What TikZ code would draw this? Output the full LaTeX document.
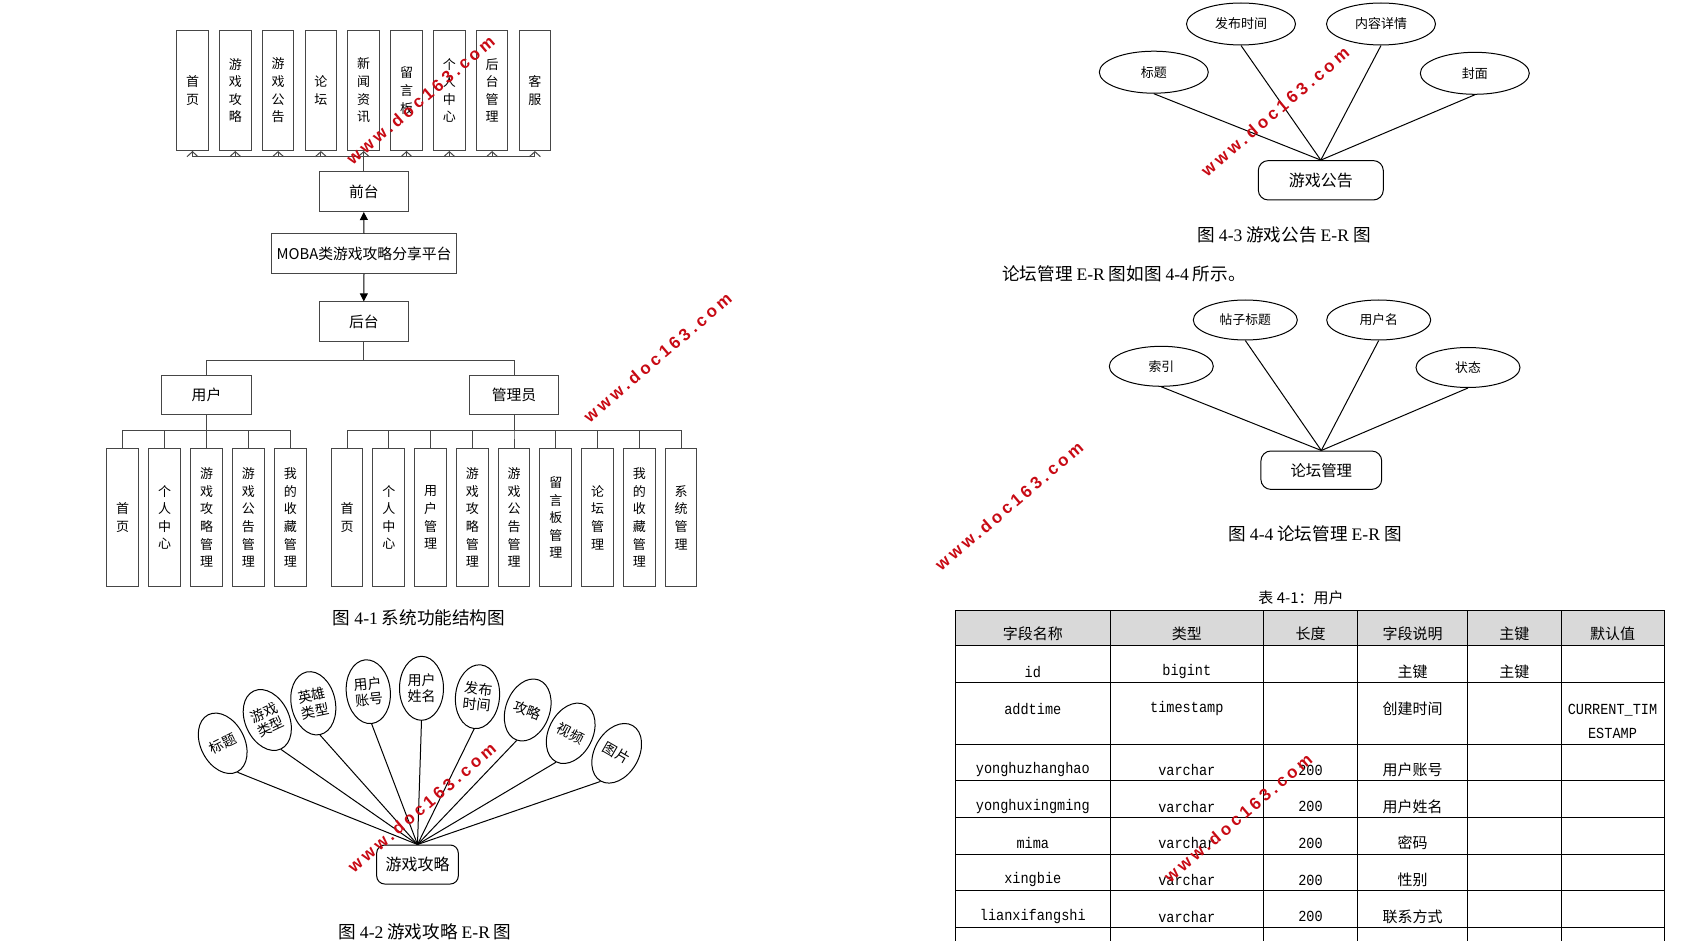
\documentclass[tikz,border=0pt]{standalone}
\usepackage{fontspec}
\setmainfont{Noto Sans CJK SC}
\newfontfamily\latinserif{Liberation Serif}
\newfontfamily\tablemono{Liberation Mono}[FakeStretch=0.88]
\newfontfamily\markfont{Liberation Sans}[LetterSpace=21]
\usetikzlibrary{arrows.meta,shapes.geometric}

\tikzset{
  funcbox/.style={draw=linegray,inner sep=0pt,minimum width=15.8pt,
    align=center,font=\fontsize{6.5}{8.8}\selectfont},
  rolebox/.style={draw=linegray,inner sep=0pt,minimum width=44.6pt,
    minimum height=19.8pt,font=\fontsize{7.4}{9}\selectfont},
  attr/.style={draw,ellipse,inner sep=0pt,align=center},
  entity/.style={draw,rounded corners=5pt,inner sep=0pt},
  figcap/.style={font=\fontsize{8.8}{10}\selectfont},
  cellcn/.style={font=\fontsize{7.5}{9}\selectfont},
  celllat/.style={font=\tablemono\fontsize{7.7}{12}\selectfont,align=center},
  watermark/.style={text=markred,rotate=40.5,
    font=\markfont\bfseries\fontsize{8.5}{9}\selectfont}
}

\begin{document}
\begin{tikzpicture}[x=0.5pt,y=-0.5pt,line width=0.5pt]
\definecolor{linegray}{RGB}{70,70,70}
\definecolor{headgray}{RGB}{217,217,217}
\definecolor{markred}{RGB}{200,10,20}
\useasboundingbox (0,0) rectangle (1693,941);

% Fig 4-1: function structure
\node[rolebox] (front) at (363.8,191.7) {前台};
\node[rolebox,minimum width=92.5pt] (platform) at (364,253.7) {MOBA类游戏攻略分享平台};
\node[rolebox] (back) at (363.8,321.7) {后台};
\node[rolebox] (user) at (206.5,395) {用户};
\node[rolebox] (admin) at (514,395) {管理员};

\foreach \txt [count=\i from 0] in {首\\页,游\\戏\\攻\\略,游\\戏\\公\\告,论\\坛,新\\闻\\资\\讯,
    留\\言\\板,个\\人\\中\\心,后\\台\\管\\理,客\\服}{
  \node[funcbox,minimum height=60pt] (top\i) at ({192.5+42.8*\i},90.5) {\txt};
  \draw[linegray,-{Straight Barb[length=2.5pt,width=5.5pt]}]
    (front.north) -- ++(0,-15) -| (top\i.south);
}

\draw[-{Triangle[length=4pt,width=4pt]}] (platform.north) -- (front.south);
\draw[-{Triangle[length=4pt,width=4pt]}] (platform.south) -- (back.north);
\draw[linegray] (back.south) -- ++(0,18.3) -| (user.north);
\draw[linegray] (back.south) -- ++(0,18.3) -| (admin.north);

\foreach \txt [count=\i from 0] in {首\\页,个\\人\\中\\心,游\\戏\\攻\\略\\管\\理,
    游\\戏\\公\\告\\管\\理,我\\的\\收\\藏\\管\\理}{
  \node[funcbox,minimum height=69.2pt] (ub\i) at ({122.7+41.9*\i},517.5) {\txt};
  \draw[linegray] (user.south) -- ++(0,15.4) -| (ub\i.north);
}

\foreach \txt [count=\i from 0] in {首\\页,个\\人\\中\\心,用\\户\\管\\理,游\\戏\\攻\\略\\管\\理,
    游\\戏\\公\\告\\管\\理,留\\言\\板\\管\\理,论\\坛\\管\\理,我\\的\\收\\藏\\管\\理,系\\统\\管\\理}{
  \node[funcbox,minimum height=69.2pt] (ab\i) at ({347+41.75*\i},517.5) {\txt};
  \draw[linegray] (admin.south) -- ++(0,15) -| (ab\i.north);
}

\node[figcap] (cap41) at (419,617.6) {图 {\latinserif 4-1} 系统功能结构图};

% Fig 4-2: guide E-R
\node[entity,rounded corners=4pt,minimum width=40.8pt,minimum height=19.5pt,
  font=\fontsize{8}{9}\selectfont] (guide) at (417.5,864.5) {游戏攻略};
\foreach \txt/\x/\y/\r [count=\i] in {标题/222.7/743.3/27,游戏\\类型/267.3/720/25,
    英雄\\类型/313.3/703.3/12,用户\\账号/368.3/691.7/6,用户\\姓名/421.5/688.3/0,
    发布\\时间/477.5/696.7/-6,攻略/527.7/710/-20,视频/570.7/733.3/-27,图片/616.7/753.3/-30}{
  \node[attr,minimum width=22pt,minimum height=32pt,rotate=\r,
    font=\fontsize{7}{7.8}\selectfont] (ga\i) at (\x,\y) {\txt};
  \draw (ga\i.south) -- (guide.north);
}
\node[figcap] (cap42) at (425,931.5) {图 {\latinserif 4-2} 游戏攻略 {\latinserif E-R} 图};

% Fig 4-3: notice E-R
\node[entity,minimum width=62.5pt,minimum height=19.7pt,
  font=\fontsize{8}{9}\selectfont] (notice) at (1320.8,180.3) {游戏公告};
\foreach \txt/\x/\y [count=\i] in {标题/1153.8/72.2,发布时间/1241/24,内容详情/1381/24,封面/1474.8/73.3}{
  \node[attr,minimum width=54.5pt,minimum height=21pt,
    font=\fontsize{6.5}{7}\selectfont] (na\i) at (\x,\y) {\txt};
  \draw (na\i.south) -- (notice.north);
}
\node[figcap] (cap43) at (1284,235) {图 {\latinserif 4-3} 游戏公告 {\latinserif E-R} 图};
\node[figcap,anchor=west,inner sep=0pt] (lead44) at (1001.7,273.3)
  {论坛管理 {\latinserif E-R} 图如图 {\latinserif 4-4} 所示。};

% Fig 4-4: forum E-R
\node[entity,minimum width=60.4pt,minimum height=19.2pt,
  font=\fontsize{7.7}{9}\selectfont] (forum) at (1321.3,470.2) {论坛管理};
\foreach \txt/\x/\y [count=\i] in {索引/1161.3/366.3,帖子标题/1245.3/320,用户名/1378.7/320,状态/1468/367.5}{
  \node[attr,minimum width=52pt,minimum height=20pt,
    font=\fontsize{6.4}{7}\selectfont] (fa\i) at (\x,\y) {\txt};
  \draw (fa\i.south) -- (forum.north);
}
\node[figcap] (cap44) at (1315,533.3) {图 {\latinserif 4-4} 论坛管理 {\latinserif E-R} 图};

% Table 4-1: user
\node[cellcn] (tabcap) at (1301,598) {表 4-1：用户};
\fill[headgray] (955.5,610) rectangle (1664,645.7);
\foreach \y in {610,645.7,682.4,744,780.6,817.4,854,890.7,927.4}
  \draw (955.5,\y) -- (1664,\y);
\foreach \x in {955.5,1110,1263.5,1357.5,1467.5,1561,1664}
  \draw (\x,610) -- (\x,941);
\foreach \txt/\x [count=\i] in {字段名称/1032.8,类型/1186.8,长度/1310.5,字段说明/1412.5,主键/1514.3,默认值/1612.5}
  \node[cellcn] (head\i) at (\x,634) {\txt};
\foreach \nm/\tp/\len/\desc/\y [count=\i] in {id/bigint//主键/672,addtime/timestamp//创建时间/709,
    yonghuzhanghao/varchar/200/用户账号/770,yonghuxingming/varchar/200/用户姓名/806.5,
    mima/varchar/200/密码/843,xingbie/varchar/200/性别/880,lianxifangshi/varchar/200/联系方式/916.5}{
  \node[celllat] (name\i) at (1032.8,\y) {\nm};
  \node[celllat] (type\i) at (1186.8,\y) {\tp};
  \node[celllat] (len\i) at (1310.5,\y) {\len};
  \node[cellcn] (desc\i) at (1412.5,\y) {\desc};
}
\node[cellcn] (key1) at (1514.3,672) {主键};
\node[celllat] (default2) at (1612.5,721) {CURRENT\_TIM\\ESTAMP};

% watermarks
\foreach \x/\y [count=\i] in {420.5/100,657.5/357.4,421.7/807.5,1275/111.7,1009/506,1238/818}
  \node[watermark] (mark\i) at (\x,\y) {www.doc163.com};
\end{tikzpicture}
\end{document}
